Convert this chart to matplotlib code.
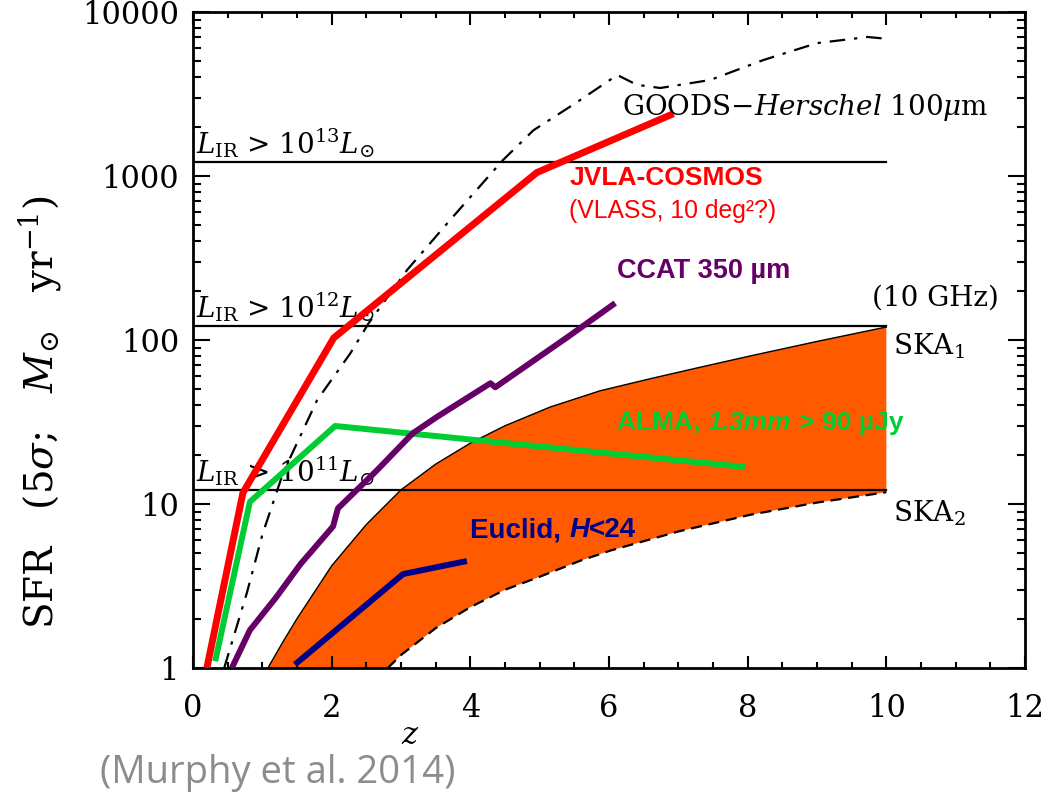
import matplotlib
matplotlib.use("Agg")
import matplotlib.pyplot as plt
from matplotlib.ticker import MultipleLocator, FixedLocator, NullFormatter, LogLocator

plt.rcParams['font.family'] = ['DejaVu Serif']
plt.rcParams['mathtext.fontset'] = 'dejavuserif'

# ---- data (redshift z, SFR in Msun/yr) ----
jvla_z = [0.2, 0.72, 2.03, 4.96, 6.93]
jvla_sfr = [1.0, 11.7, 103, 1050, 2400]

alma_z = [0.32, 0.82, 2.05, 7.97]
alma_sfr = [1.1, 10.3, 29.9, 16.8]

euclid_z = [1.47, 3.03, 3.95]
euclid_sfr = [1.05, 3.74, 4.49]

ccat_z = [0.56, 0.82, 1.2, 1.55, 2.02, 2.09, 2.65, 3.17, 3.52, 4.29, 4.36, 5.4, 6.09]
ccat_sfr = [1.0, 1.7, 2.7, 4.3, 7.3, 9.4, 16, 27, 34, 54.5, 51.5, 104, 168]

goods_z = [0.45, 0.78, 1.0, 1.3, 1.79, 2.27, 2.53, 3.09, 3.71, 4.47, 4.91, 5.5,
           6.12, 6.4, 6.74, 7.46, 8.23, 9.0, 9.73, 10.0]
goods_sfr = [1.0, 2.9, 6.5, 15.5, 43, 83, 126, 268, 540, 1250, 1900, 2750,
             4130, 3600, 3440, 3850, 5100, 6460, 7040, 6870]

ska1_z = [1.08, 1.3, 1.5, 2.0, 2.5, 3.0, 3.5, 4.0, 4.5, 5.15, 5.87, 6.59, 7.3, 8.04, 9.0, 10.0]
ska1_sfr = [1.0, 1.45, 2.0, 4.2, 7.5, 12.2, 17.5, 23.5, 30, 39, 49, 58, 68, 80, 98, 120]

ska2_z = [2.81, 3.0, 3.5, 4.0, 4.5, 5.0, 5.58, 6.02, 7.0, 8.04, 9.0, 10.0]
ska2_sfr = [1.0, 1.2, 1.75, 2.35, 3.0, 3.6, 4.5, 5.2, 6.8, 8.6, 10.2, 11.8]

lir_levels = [12.2, 122, 1220]
lir_labels = [r'$L_{\rm IR}$ > 10$^{11}$$L_{\odot}$',
              r'$L_{\rm IR}$ > 10$^{12}$$L_{\odot}$',
              r'$L_{\rm IR}$ > 10$^{13}$$L_{\odot}$']

x_ticks = [0, 2, 4, 6, 8, 10, 12]
y_ticks = [1, 10, 100, 1000, 10000]
y_ticklabels = ['1', '10', '100', '1000', '10000']

RED = '#ff0000'
GREEN = '#00cc33'
PURPLE = '#660066'
NAVY = '#000088'
ORANGE = '#ff5a00'

fig = plt.figure(figsize=(10.49, 7.94), dpi=100)
ax = fig.add_axes([193 / 1049, 1 - 668 / 794, (1025 - 193) / 1049, (668 - 12) / 794])
ax.set_yscale('log')
ax.set_xlim(0, 12)
ax.set_ylim(1, 10000)

# SKA band: upper curve, right edge, lower curve back, closing along the bottom
poly_z = list(ska1_z) + list(ska2_z[::-1])
poly_s = list(ska1_sfr) + list(ska2_sfr[::-1])
ax.fill(poly_z, poly_s, color=ORANGE, lw=0, zorder=1)
ax.plot(ska1_z, ska1_sfr, color='black', lw=1.0, zorder=2)
ax.plot(ska2_z, ska2_sfr, color='black', lw=1.6, ls=(0, (5, 3)), zorder=2)

# constant L_IR lines
for lev, lab in zip(lir_levels, lir_labels):
    ax.plot([0, 10], [lev, lev], color='black', lw=1.6, zorder=3)
    ax.text(0.05, lev * 1.03, lab, fontsize=20, va='bottom', ha='left', zorder=3)

# GOODS-Herschel
ax.plot(goods_z, goods_sfr, color='black', lw=1.6, ls=(0, (7, 4, 1.5, 4)), zorder=3)

# survey tracks
ax.plot(jvla_z, jvla_sfr, color=RED, lw=5, solid_capstyle='butt', zorder=5)
ax.plot(alma_z, alma_sfr, color=GREEN, lw=4.3, solid_capstyle='butt', zorder=5)
ax.plot(ccat_z, ccat_sfr, color=PURPLE, lw=4.3, solid_capstyle='butt', zorder=5)
ax.plot(euclid_z, euclid_sfr, color=NAVY, lw=4.3, solid_capstyle='butt', zorder=5)

# labels inside the axes
ax.text(6.19, 2600, r'GOODS$-$$Herschel$ 100$\mu$m', fontsize=20, va='center', ha='left', zorder=6)
sans = ['Liberation Sans', 'DejaVu Sans']
ax.text(5.43, 970, 'JVLA-COSMOS', color=RED, fontsize=19, fontweight='bold',
        family=sans, va='center', ha='left', zorder=6)
ax.text(5.43, 615, '(VLASS, 10 deg²?)', color=RED, fontsize=17.8,
        family=sans, va='center', ha='left', zorder=6)
ax.text(6.12, 265, 'CCAT 350 µm', color=PURPLE, fontsize=19.5, fontweight='bold',
        family=sans, va='center', ha='left', zorder=6)
ax.text(9.8, 180, '(10 GHz)', fontsize=20, va='center', ha='left', zorder=6)
ax.text(10.1, 92, r'SKA$_1$', fontsize=20, va='center', ha='left', zorder=6)
ax.text(10.1, 8.8, r'SKA$_2$', fontsize=20, va='center', ha='left', zorder=6)

a1 = ax.text(6.12, 31, 'ALMA, ', color=GREEN, fontsize=19, fontweight='bold',
             family=sans, va='center', ha='left', zorder=6)
a2 = ax.annotate('1.3mm', xy=(1, 0), xycoords=a1, color=GREEN, fontsize=19,
                 fontweight='bold', fontstyle='italic', family=sans,
                 va='bottom', ha='left', zorder=6)
ax.annotate(' > 90 µJy', xy=(1, 0), xycoords=a2, color=GREEN, fontsize=19,
            fontweight='bold', family=sans, va='bottom', ha='left', zorder=6)

e1 = ax.text(4.0, 6.9, 'Euclid, ', color=NAVY, fontsize=20, fontweight='bold',
             family=sans, va='center', ha='left', zorder=6)
e2 = ax.annotate('H', xy=(1, 0), xycoords=e1, color=NAVY, fontsize=20,
                 fontweight='bold', fontstyle='italic', family=sans,
                 va='bottom', ha='left', zorder=6)
ax.annotate('<24', xy=(1, 0), xycoords=e2, color=NAVY, fontsize=20,
            fontweight='bold', family=sans, va='bottom', ha='left', zorder=6)

# axes styling
ax.xaxis.set_major_locator(FixedLocator(x_ticks))
ax.xaxis.set_minor_locator(MultipleLocator(0.5))
ax.set_xticklabels([str(t) for t in x_ticks])
ax.yaxis.set_major_locator(FixedLocator(y_ticks))
ax.set_yticklabels(y_ticklabels)
ax.yaxis.set_minor_locator(LogLocator(base=10, subs=range(2, 10)))
ax.yaxis.set_minor_formatter(NullFormatter())

for sp in ax.spines.values():
    sp.set_linewidth(2.0)
ax.tick_params(which='both', direction='in', top=True, right=True, width=1.5, labelsize=22)
ax.tick_params(axis='x', which='major', length=9, pad=18)
ax.tick_params(axis='x', which='minor', length=4)
ax.tick_params(axis='y', which='major', length=12, pad=10)
ax.tick_params(axis='y', which='minor', length=6)

fig.text(40 / 1049, 1 - 412 / 794,
         r'SFR   (5$\sigma$;   $M_{\odot}$   yr$^{-1}$)', rotation=90,
         fontsize=28, ha='center', va='center')
fig.text(410 / 1049, 1 - 736 / 794, r'$z$', fontsize=22, ha='center', va='center')
fig.text(100 / 1049, 1 - 773 / 794, '(Murphy et al. 2014)', fontsize=27.5, color='#8c8c8c',
         family=['Open Sans', 'DejaVu Sans'], ha='left', va='center')

fig.savefig('out.png', dpi=100)
